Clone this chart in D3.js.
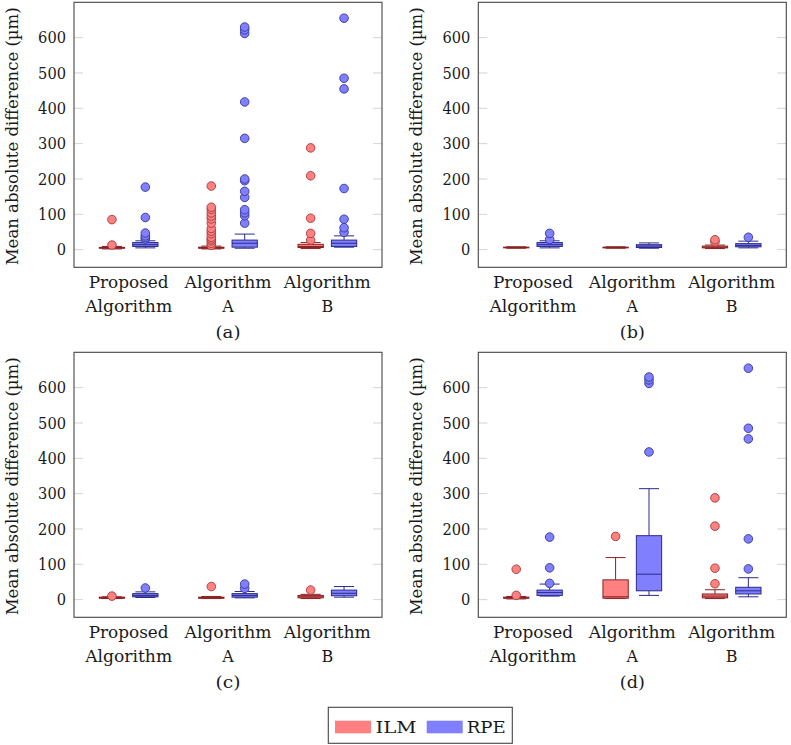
<!DOCTYPE html>
<html>
<head>
<meta charset="utf-8">
<script src="https://cdn.jsdelivr.net/npm/d3@7"></script>
<style>
  html, body { margin: 0; padding: 0; background: #fff; }
  svg { display: block; }
  svg text { font-family: 'DejaVu Serif', 'Liberation Serif', 'Times New Roman', Times, serif; fill: #1a1a1a; }
</style>
</head>
<body>
<svg id="chart" width="791" height="745"></svg>
<script>
// ---------- data ----------
const categoryLines = [["Proposed", "Algorithm"], ["Algorithm", "A"], ["Algorithm", "B"]];
const seriesNames = ["ILM", "RPE"];
const yTicks = [0, 100, 200, 300, 400, 500, 600];
const panelLabels = ["(a)", "(b)", "(c)", "(d)"];
const yLabel = "Mean absolute difference (µm)";

// box stats per category: [lower whisker, q1, median, q3, upper whisker]
const panelA_ILM = [[2, 4, 5, 6.5, 9], [2, 4, 5, 7, 10], [3, 6, 9, 15, 20]];
const panelA_RPE = [[5, 9, 14, 20, 25], [4, 7, 18, 27, 44], [7, 9, 18, 27, 39]];
const panelA_ILM_out = [[13, 85], [12, 18, 25, 30, 35, 45, 52, 60, 75, 87, 95, 104, 114, 120, 180], [27, 46, 89, 209, 288]];
const panelA_RPE_out = [[30, 34, 39, 47, 91, 177], [75, 96, 104, 113, 148, 165, 195, 200, 315, 418, 612, 622, 630], [49, 62, 86, 173, 455, 485, 655]];

const panelB_ILM = [[4, 5, 6, 7, 8], [4, 5, 6, 7, 8], [3, 5, 7, 10, 13]];
const panelB_RPE = [[5, 9, 14, 20, 25], [4, 6, 10, 14, 19], [5, 8, 12, 17, 24]];
const panelB_ILM_out = [[], [], [22, 28]];
const panelB_RPE_out = [[29, 46], [], [35]];

const panelC_ILM = [[3, 4, 5, 7, 8], [3, 4, 5, 7, 9], [3, 5, 8, 12, 15]];
const panelC_RPE = [[6, 8, 12, 17, 22], [5, 7, 12, 17, 23], [7, 11, 18, 27, 37]];
const panelC_ILM_out = [[10], [37], [27]];
const panelC_RPE_out = [[33], [32, 44], []];

const panelD_ILM = [[2, 4, 5, 7, 9], [3, 4, 8, 56, 119], [3, 5, 10, 16, 28]];
const panelD_RPE = [[10, 12, 20, 27, 44], [12, 25, 72, 181, 314], [8, 16, 25, 35, 62]];
const panelD_ILM_out = [[12, 86], [179], [45, 89, 208, 288]];
const panelD_RPE_out = [[46, 90, 177], [418, 612, 622, 630], [87, 172, 455, 485, 655]];

// ---------- layout / style ----------
const panels = [
  { x0: 74,    y0: 2.3,   stats: [panelA_ILM, panelA_RPE], outs: [panelA_ILM_out, panelA_RPE_out] },
  { x0: 478.3, y0: 2.3,   stats: [panelB_ILM, panelB_RPE], outs: [panelB_ILM_out, panelB_RPE_out] },
  { x0: 74,    y0: 352.3, stats: [panelC_ILM, panelC_RPE], outs: [panelC_ILM_out, panelC_RPE_out] },
  { x0: 478.3, y0: 352.3, stats: [panelD_ILM, panelD_RPE], outs: [panelD_ILM_out, panelD_RPE_out] }
];
const PW = 308, PH = 265;
const FONT = "'DejaVu Serif', 'Liberation Serif', 'Times New Roman', Times, serif";
const fills = ["#ff8080", "#8080ff"];
const strokes = ["#8a2020", "#2a2a8a"];
const dotStrokes = ["#a33a3a", "#35359a"];
const boxW = 25.3, offset = 16.7, capW = 20, FS = 16;

const svg = d3.select("#chart");

function fitWidth(sel, target) {
  sel.each(function () {
    this.setAttribute("textLength", target);
    this.setAttribute("lengthAdjust", "spacingAndGlyphs");
  });
}

panels.forEach((p, pi) => {
  const g = svg.append("g").attr("font-family", FONT);
  const x = d3.scaleLinear().domain([0.45, 3.55]).range([p.x0, p.x0 + PW]);
  const y = d3.scaleLinear().domain([-50, 700]).range([p.y0 + PH, p.y0]);

  // tick marks (inside, both sides)
  const tg = g.append("g");
  yTicks.forEach(t => {
    tg.append("line").attr("x1", p.x0).attr("x2", p.x0 + 9).attr("y1", y(t)).attr("y2", y(t))
      .attr("stroke", "#d4d4d4").attr("stroke-width", 1);
    tg.append("line").attr("x1", p.x0 + PW - 9).attr("x2", p.x0 + PW).attr("y1", y(t)).attr("y2", y(t))
      .attr("stroke", "#d4d4d4").attr("stroke-width", 1);
  });

  // y axis tick labels
  const yAxis = d3.axisLeft(y).tickValues(yTicks).tickSize(0).tickPadding(8).tickFormat(d3.format("d"));
  const ya = g.append("g").attr("transform", `translate(${p.x0},0)`).call(yAxis)
    .attr("font-family", FONT).attr("font-size", FS);
  ya.select(".domain").remove();
  ya.selectAll("text").style("font-family", FONT).attr("font-size", FS).attr("fill", "#1a1a1a")
    .each(function (d) { this.setAttribute("textLength", String(d).length * 9.3); this.setAttribute("lengthAdjust", "spacingAndGlyphs"); });

  // boxes
  seriesNames.forEach((s, si) => {
    const dx = si === 0 ? -offset : offset;
    p.stats[si].forEach((st, ci) => {
      const cx = x(ci + 1) + dx;
      const [lo, q1, med, q3, hi] = st;
      const bg = g.append("g").attr("stroke", strokes[si]).attr("stroke-width", 1).attr("fill", "none");
      bg.append("line").attr("x1", cx).attr("x2", cx).attr("y1", y(q3)).attr("y2", y(hi));
      bg.append("line").attr("x1", cx).attr("x2", cx).attr("y1", y(q1)).attr("y2", y(lo));
      bg.append("line").attr("x1", cx - capW / 2).attr("x2", cx + capW / 2).attr("y1", y(hi)).attr("y2", y(hi));
      bg.append("line").attr("x1", cx - capW / 2).attr("x2", cx + capW / 2).attr("y1", y(lo)).attr("y2", y(lo));
      bg.append("rect").attr("x", cx - boxW / 2).attr("width", boxW)
        .attr("y", y(q3)).attr("height", Math.max(0.5, y(q1) - y(q3)))
        .attr("fill", fills[si]);
      bg.append("line").attr("x1", cx - boxW / 2).attr("x2", cx + boxW / 2).attr("y1", y(med)).attr("y2", y(med));
    });
  });
  // outliers
  seriesNames.forEach((s, si) => {
    const dx = si === 0 ? -offset : offset;
    p.outs[si].forEach((arr, ci) => {
      const cx = x(ci + 1) + dx;
      g.selectAll(null).data(arr).enter().append("circle")
        .attr("cx", cx).attr("cy", d => y(d)).attr("r", 4.3)
        .attr("fill", fills[si]).attr("stroke", dotStrokes[si]).attr("stroke-width", 0.9);
    });
  });

  // frame
  g.append("rect").attr("x", p.x0).attr("y", p.y0).attr("width", PW).attr("height", PH)
    .attr("fill", "none").attr("stroke", "#454545").attr("stroke-width", 1.1);

  // category labels
  categoryLines.forEach((lines, ci) => {
    lines.forEach((ln, li) => {
      const t = g.append("text").attr("x", x(ci + 1)).attr("y", p.y0 + PH + 21 + li * 23.4)
        .attr("text-anchor", "middle").attr("font-size", FS).style("font-family", FONT).text(ln);
      if (ln === "Proposed") fitWidth(t, 80);
      else if (ln === "Algorithm") fitWidth(t, 87);
    });
  });

  // panel label
  const pl = g.append("text").attr("x", x(2)).attr("y", p.y0 + PH + 71)
    .attr("text-anchor", "middle").attr("font-size", FS).style("font-family", FONT).text(panelLabels[pi]);
  fitWidth(pl, 25);

  // y label
  const yl = g.append("text")
    .attr("transform", `translate(${p.x0 - 62},${p.y0 + 134}) rotate(-90)`)
    .attr("text-anchor", "middle").attr("dominant-baseline", "central")
    .attr("font-size", FS).style("font-family", FONT).text(yLabel);
  fitWidth(yl, 258);
});

// legend
const lg = svg.append("g").attr("font-family", FONT);
lg.append("rect").attr("x", 328.3).attr("y", 707.3).attr("width", 184).attr("height", 36)
  .attr("fill", "#fff").attr("stroke", "#454545").attr("stroke-width", 1.1);
const legX = [335, 426.7];
const legTX = [375.5, 466.7];
seriesNames.forEach((s, si) => {
  lg.append("rect").attr("x", legX[si]).attr("y", 720.7).attr("width", 36).attr("height", 12.6)
    .attr("fill", fills[si]);
  const t = lg.append("text").attr("x", legTX[si]).attr("y", 733.2).attr("font-size", FS)
    .style("font-family", FONT).text(s);
  fitWidth(t, si === 0 ? 41 : 39);
});
</script>
</body>
</html>
